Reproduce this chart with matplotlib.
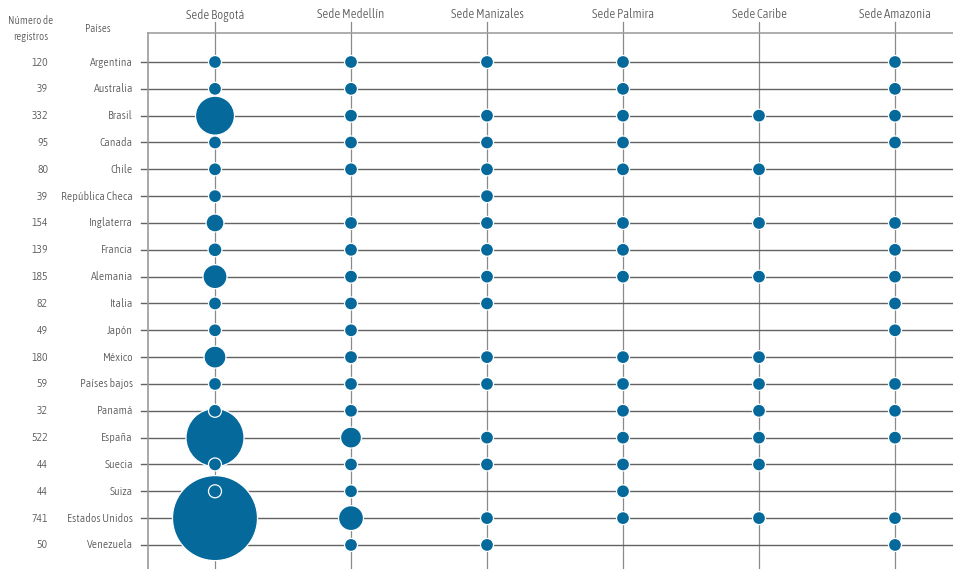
import numpy as np
import matplotlib.pyplot as plt

# narrow light face, close to the condensed sans of the original
plt.rcParams['font.family'] = ['Asap Condensed', 'DejaVu Sans']
plt.rcParams['font.weight'] = 300

sedes = ["Sede Bogotá", "Sede Medellín", "Sede Manizales",
         "Sede Palmira", "Sede Caribe", "Sede Amazonia"]
paises = ["Argentina", "Australia", "Brasil", "Canada", "Chile",
          "República Checa", "Inglaterra", "Francia", "Alemania", "Italia",
          "Japón", "México", "Países bajos", "Panamá", "España", "Suecia",
          "Suiza", "Estados Unidos", "Venezuela"]
registros = [120, 39, 332, 95, 80, 39, 154, 139, 185, 82, 49, 180, 59, 32,
             522, 44, 44, 741, 50]

# estimated registros per sede (0 = none)
bogota    = [14, 10, 142, 13, 12, 11, 30, 18, 54, 12, 10, 45, 12, 9, 315, 10, 9, 676, 0]
medellin  = [12, 6, 14, 10, 9, 0, 15, 14, 15, 10, 7, 16, 9, 5, 41, 8, 8, 58, 9]
manizales = [10, 0, 13, 9, 8, 6, 12, 12, 13, 9, 0, 12, 8, 0, 12, 6, 0, 13, 7]
palmira   = [9, 5, 12, 8, 7, 0, 11, 10, 12, 0, 0, 11, 7, 4, 11, 6, 5, 12, 0]
caribe    = [0, 0, 8, 0, 6, 0, 9, 0, 10, 0, 0, 9, 6, 4, 10, 5, 0, 11, 0]
amazonia  = [8, 4, 9, 7, 0, 0, 9, 8, 9, 7, 6, 0, 6, 3, 9, 0, 0, 10, 6]

valores = np.array([bogota, medellin, manizales, palmira, caribe, amazonia]).T

W, H = 954, 569
fig = plt.figure(figsize=(W / 100, H / 100), dpi=100)
ax = fig.add_axes([0, 0, 1, 1])
ax.set_axis_off()

# map data units so columns / rows land where the original puts them
col_x0, col_dx = 215, 136
row_y0, row_dy = 62, 26.83
ax.set_xlim(-col_x0 / col_dx, (W - col_x0) / col_dx)
ax.set_ylim((H - row_y0) / row_dy, -row_y0 / row_dy)

def px_x(p):
    return (p - col_x0) / col_dx

def px_y(p):
    return (p - row_y0) / row_dy

blue = '#05699c'
txt = '#555555'
nrows, ncols = valores.shape

# grid
for j in range(ncols):
    ax.plot([j, j], [px_y(22), px_y(H)], color='#8a8a8a', lw=0.9, zorder=1)
for i in range(nrows):
    ax.plot([px_x(141), px_x(W)], [i, i], color='#626262', lw=1.0, zorder=1)
ax.plot([px_x(148), px_x(148)], [px_y(33), px_y(H)], color='#9a9a9a', lw=1.2, zorder=1)
ax.plot([px_x(148), px_x(W)], [px_y(33), px_y(33)], color='#a0a0a0', lw=1.2, zorder=1)

# bubbles, largest first so small dots stay on top
ii, jj = np.nonzero(valores)
vv = valores[ii, jj]
diam = np.maximum(3.27 * np.sqrt(vv), 13.0)
order = np.argsort(-diam)
ax.scatter(jj[order], ii[order], s=(diam[order] * 0.72) ** 2, color=blue,
           edgecolor='white', linewidth=0.9, zorder=3)

# headers
for j, s in enumerate(sedes):
    ax.text(j, px_y(15), s, ha='center', va='center', fontsize=9.3, color=txt)
ax.text(px_x(31), px_y(20), "Número de", ha='center', va='center', fontsize=8, color=txt)
ax.text(px_x(31), px_y(37), "registros", ha='center', va='center', fontsize=8, color=txt)
ax.text(px_x(98), px_y(29), "Países", ha='center', va='center', fontsize=8, color=txt)

for i, (p, r) in enumerate(zip(paises, registros)):
    ax.text(px_x(133), i, p, ha='right', va='center', fontsize=8.5, color=txt)
    ax.text(px_x(48), i, str(r), ha='right', va='center', fontsize=8.5, color=txt)

fig.savefig('out.png', dpi=100, facecolor='white')
